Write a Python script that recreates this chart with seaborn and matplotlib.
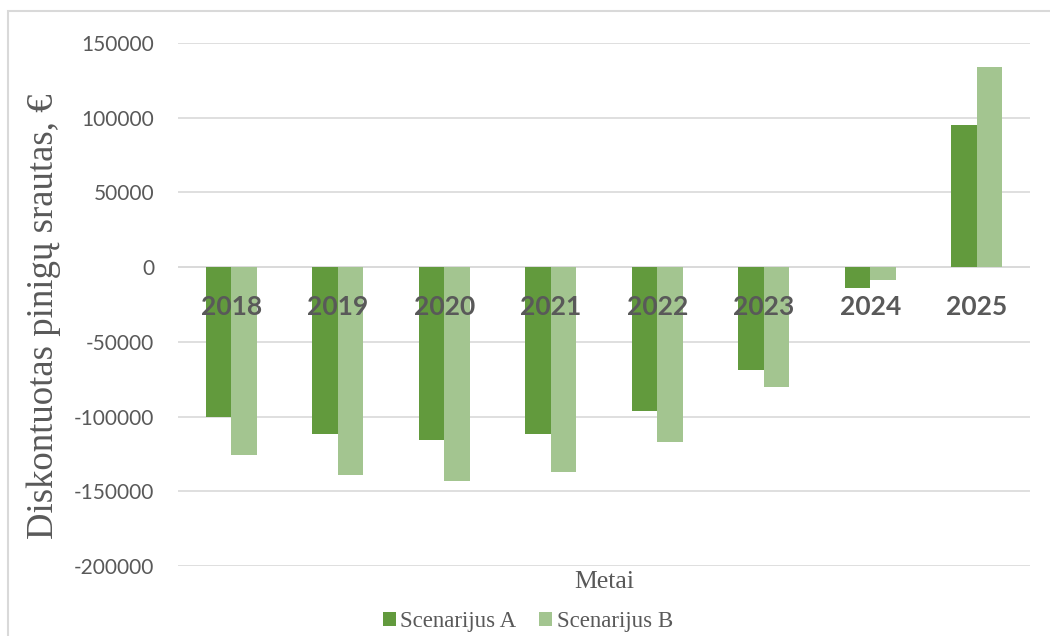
import pandas as pd
import matplotlib.pyplot as plt
import seaborn as sns
from matplotlib.patches import Rectangle

years = ['2018', '2019', '2020', '2021', '2022', '2023', '2024', '2025']
scen_a = [-100400, -111500, -115500, -111500, -96600, -68500, -14000, 95300]
scen_b = [-125400, -138800, -143200, -137000, -117100, -79900, -8700, 134100]
yticks = [150000, 100000, 50000, 0, -50000, -100000, -150000, -200000]

df = pd.DataFrame({
    'Metai': years * 2,
    'srautas': scen_a + scen_b,
    'scenarijus': ['Scenarijus A'] * len(years) + ['Scenarijus B'] * len(years),
})

sns.set_style('white')
plt.rcParams['font.family'] = ['Lato', 'DejaVu Sans']

fig = plt.figure(figsize=(10.5, 6.36), dpi=100)
ax = fig.add_axes([178 / 1050, 70 / 636, 852 / 1050, 523 / 636])

sns.barplot(data=df, x='Metai', y='srautas', hue='scenarijus',
            palette=['#629A3D', '#A3C590'], width=0.48, gap=0,
            saturation=1, linewidth=0, ax=ax, legend=True)

ax.set_ylim(-200000, 150000)
ax.set_yticks(yticks)
ax.set_yticklabels([str(t) for t in yticks])
ax.yaxis.grid(True, color='#D9D9D9', linewidth=1.2)
ax.set_axisbelow(True)
ax.axhline(0, color='#D9D9D9', linewidth=1.2, zorder=0.5)

for s in ['top', 'right', 'left', 'bottom']:
    ax.spines[s].set_visible(False)
ax.spines['bottom'].set_position(('data', 0))
# metų etiketės virš stulpelių
ax.xaxis.set_zorder(5)

ax.tick_params(axis='y', length=0, pad=17, labelsize=15, labelcolor='#595959')
ax.tick_params(axis='x', length=0, pad=20, labelsize=19, labelcolor='#595959')
for lbl in ax.get_xticklabels():
    lbl.set_fontweight('bold')

ax.set_xlabel('')
ax.set_ylabel('')
fig.text(44 / 1050, 1 - 316 / 636, 'Diskontuotas pinigų srautas, €',
         family='Liberation Serif', fontsize=26.5, color='#595959',
         rotation=90, ha='center', va='center')

fig.text(604 / 1050, 1 - 582 / 636, 'Metai', family='Liberation Serif',
         fontsize=18.5, color='#595959', ha='center', va='center')

ax.get_legend().remove()
handles, labels = ax.get_legend_handles_labels()
fig.legend(handles[:2], labels[:2], loc='center', ncol=2,
           bbox_to_anchor=(528 / 1050, 1 - 622 / 636), frameon=False,
           prop={'family': 'Liberation Serif', 'size': 16.5},
           labelcolor='#595959', handlelength=0.55, handleheight=0.55,
           handletextpad=0.2, columnspacing=1.0)

fig.patches.append(Rectangle((7.5 / 1050, -0.1), 1.2, 0.1 + (636 - 11) / 636,
                             transform=fig.transFigure, fill=False,
                             edgecolor='#D9D9D9', linewidth=1.5))

fig.savefig('out.png', dpi=100)
